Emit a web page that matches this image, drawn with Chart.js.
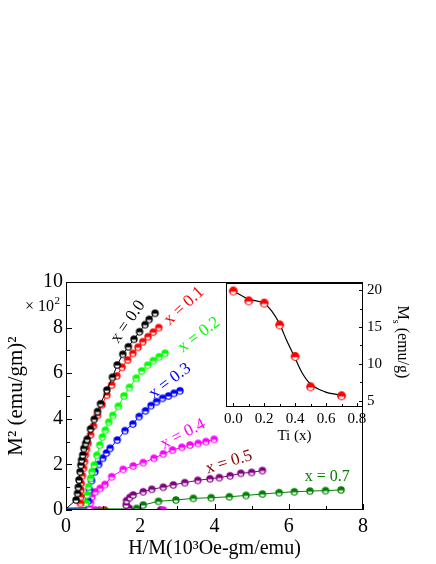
<!DOCTYPE html>
<html><head><meta charset="utf-8">
<script src="https://cdn.jsdelivr.net/npm/chart.js@4"></script>
<style>
html,body{margin:0;padding:0;background:#fff;}
#wrap{position:relative;width:436px;height:564px;overflow:hidden;}
#main{position:absolute;left:0;top:0;}
#inset{position:absolute;left:200px;top:270px;}
</style></head><body>
<div id="wrap"><canvas id="main" width="436" height="564"></canvas><canvas id="inset" width="236" height="180"></canvas></div>
<script>
// ---------- data (H/M in 10^3 Oe-gm/emu, M^2 in 10^2 (emu/gm)^2) ----------
const s00 = [[0.27,0.44],[0.31,0.73],[0.33,1.0],[0.35,1.32],[0.38,1.68],[0.40,1.97],[0.42,2.19],[0.45,2.41],[0.48,2.70],[0.53,2.92],[0.57,3.10],[0.66,3.55],[0.76,3.98],[0.85,4.32],[0.93,4.66],[1.10,5.26],[1.25,5.82],[1.38,6.36],[1.53,6.83],[1.68,7.16],[1.83,7.49],[1.98,7.82],[2.13,8.13],[2.24,8.36],[2.40,8.63]];
const s01 = [[0.39,0.29],[0.40,0.58],[0.40,0.88],[0.41,1.17],[0.44,1.50],[0.47,1.83],[0.50,2.12],[0.52,2.41],[0.55,2.66],[0.59,2.92],[0.66,3.30],[0.74,3.68],[0.85,4.15],[0.97,4.62],[1.10,5.04],[1.23,5.48],[1.37,5.88],[1.51,6.26],[1.66,6.58],[1.80,6.87],[1.94,7.14],[2.07,7.38],[2.21,7.60],[2.35,7.80],[2.50,8.0]];
const s02 = [[0.54,0.30],[0.57,0.66],[0.61,1.02],[0.66,1.39],[0.70,1.68],[0.76,1.97],[0.83,2.40],[0.91,2.85],[0.98,3.20],[1.06,3.50],[1.15,3.85],[1.26,4.15],[1.41,4.55],[1.56,5.0],[1.71,5.38],[1.89,5.78],[2.04,6.10],[2.20,6.35],[2.35,6.55],[2.51,6.72],[2.67,6.88]];
const s03 = [[0.60,0.40],[0.63,0.88],[0.69,1.29],[0.78,1.68],[0.88,2.0],[0.99,2.27],[1.09,2.50],[1.19,2.71],[1.38,3.07],[1.59,3.48],[1.80,3.77],[1.97,4.10],[2.14,4.35],[2.29,4.58],[2.44,4.75],[2.60,4.90],[2.76,5.0],[2.91,5.12],[3.07,5.23]];
const s04 = [[0.63,0.12],[0.66,0.32],[0.70,0.58],[0.79,0.80],[0.92,0.95],[1.05,1.12],[1.23,1.46],[1.54,1.78],[1.81,1.93],[2.08,2.08],[2.37,2.27],[2.62,2.46],[2.87,2.63],[3.12,2.75],[3.34,2.85],[3.56,2.92],[3.77,3.0],[3.99,3.10]];
const s05 = [[1.70,0.08],[1.62,0.22],[1.63,0.41],[1.72,0.55],[1.81,0.66],[2.08,0.80],[2.31,0.91],[2.62,1.0],[2.89,1.10],[3.20,1.20],[3.55,1.30],[3.88,1.37],[4.13,1.42],[4.42,1.50],[4.71,1.61],[5.00,1.65],[5.29,1.73]];
const s07 = [[1.90,0.07],[2.08,0.22],[2.49,0.38],[2.96,0.44],[3.43,0.51],[3.91,0.54],[4.40,0.58],[4.85,0.64],[5.29,0.70],[5.74,0.76],[6.15,0.80],[6.57,0.83],[6.99,0.85],[7.41,0.88]];
// low-field baseline runs (line only, no markers)
const lead00 = [[0,0.05]];
const lead03 = [[0,0.08],[0.55,0.10]];
const lead07 = [[0,0.05],[1.6,0.05]];
// stray low-field points sitting on the axis
const dots01 = [[1.04,0]];
const dots04 = [[0.78,0],[0.90,0],[2.62,0]];
const dots05 = [[1.95,0],[2.55,0]];

const seriesNames = ['x = 0.0','x = 0.1','x = 0.2','x = 0.3','x = 0.4','x = 0.5','x = 0.7'];

const xTicks = [0,2,4,6,8];
const xMinor = [1,3,5,7];
const yTicks = [0,2,4,6,8,10];
const yMinor = [1,3,5,7,9];

// inset: saturation magnetisation vs Ti content
const ti = [0.0,0.1,0.2,0.3,0.4,0.5,0.7];
const ms = [19.9,18.56,18.25,15.29,11.02,6.89,5.67];
const fitTi = [0.0,0.097,0.2,0.248,0.298,0.345,0.395,0.442,0.496,0.593,0.69];
const fitMs = [19.9,18.79,18.2,17.2,15.5,13.2,11.0,8.9,7.34,6.21,5.77];
const insetXTicks = [0.0,0.2,0.4,0.6,0.8];
const insetXMinor = [0.1,0.3,0.5,0.7];
const insetYTicks = [5,10,15,20];
const insetYMinor = [7.5,12.5,17.5];

// ---------- styling ----------
const FONT = '"Liberation Serif","Times New Roman",serif';
const colors = ['#000000','#ff0000','#00ff00','#0000ff','#ff00ff','#800080','#008000'];
const labelColors = ['#000000','#ff0000','#00ff00','#0000ff','#ff00ff','#800000','#008000'];
const labelSpec = [
  {x:1.67,y:8.25,a:-55,size:17},
  {x:3.18,y:8.95,a:-43,size:17},
  {x:3.58,y:7.68,a:-37,size:17},
  {x:2.80,y:5.66,a:-37,size:17},
  {x:3.15,y:3.33,a:-27,size:17},
  {x:4.39,y:2.10,a:-17,size:17},
  {x:7.04,y:1.45,a:0,size:16}
];

function makeMarker(color, r) {
  const s = Math.ceil(2*r + 2);
  const c = document.createElement('canvas');
  c.width = s; c.height = s;
  const g = c.getContext('2d');
  const cx = s/2, cy = s/2;
  g.beginPath(); g.arc(cx, cy, r, 0, Math.PI*2); g.fillStyle = color; g.fill();
  g.beginPath(); g.arc(cx, cy + r*0.15, r*0.62, 0, Math.PI); g.closePath();
  g.fillStyle = '#ffffff'; g.fill();
  return c;
}
const toPts = arr => arr.map(p => ({x:p[0], y:p[1]}));

const series = [s00,s01,s02,s03,s04,s05,s07];
const leads = [lead00,[],[],lead03,[],[],lead07];
const datasets = [];
series.forEach((s,i) => {
  const lead = leads[i];
  const mk = makeMarker(colors[i], 3.7);
  datasets.push({
    label: seriesNames[i],
    data: toPts(lead.concat(s)),
    borderColor: colors[i], borderWidth: 1, backgroundColor: colors[i],
    pointStyle: mk,
    pointRadius: ctx => ctx.dataIndex < lead.length ? 0 : 3.7,
    showLine: true, tension: 0, fill: false
  });
});
[[dots01,1],[dots04,4],[dots05,5]].forEach(([d,i]) => {
  datasets.push({
    data: toPts(d), showLine: false, pointStyle: makeMarker(colors[i], 3.7),
    pointRadius: 3.7, borderColor: colors[i], backgroundColor: colors[i]
  });
});

function drawInwardTicks(ctx, scale, values, len, horizontal, fromEdge, dir) {
  values.forEach(v => {
    const p = Math.round(scale.getPixelForValue(v)) + 0.5;
    ctx.beginPath();
    if (horizontal) { ctx.moveTo(p, fromEdge); ctx.lineTo(p, fromEdge + dir*len); }
    else { ctx.moveTo(fromEdge, p); ctx.lineTo(fromEdge + dir*len, p); }
    ctx.stroke();
  });
}

const mainDeco = {
  id: 'mainDeco',
  afterDatasetsDraw(chart) {
    const {ctx, chartArea: a, scales: {x, y}} = chart;
    ctx.save();
    ctx.strokeStyle = '#000'; ctx.lineWidth = 1;
    ctx.strokeRect(a.left + 0.5, a.top + 0.5, a.right - a.left - 1, a.bottom - a.top - 1);
    drawInwardTicks(ctx, x, xTicks, 6, true, a.bottom, -1);
    drawInwardTicks(ctx, x, xMinor, 4, true, a.bottom, -1);
    drawInwardTicks(ctx, y, yTicks, 6, false, a.left, 1);
    drawInwardTicks(ctx, y, yMinor, 4, false, a.left, 1);
    // series labels
    labelSpec.forEach((l, i) => {
      ctx.save();
      ctx.translate(x.getPixelForValue(l.x), y.getPixelForValue(l.y));
      ctx.rotate(l.a * Math.PI / 180);
      ctx.font = l.size + 'px ' + FONT;
      ctx.fillStyle = labelColors[i];
      ctx.textAlign = 'center'; ctx.textBaseline = 'middle';
      ctx.fillText(seriesNames[i], 0, 0);
      ctx.restore();
    });
    // multiplier
    ctx.fillStyle = '#000';
    ctx.textBaseline = 'alphabetic'; ctx.textAlign = 'left';
    ctx.font = '16px ' + FONT;
    const base = '\u00d7 10';
    const bx = 25, by = 311;
    ctx.fillText(base, bx, by);
    const w = ctx.measureText(base).width;
    ctx.font = '11px ' + FONT;
    ctx.fillText('2', bx + w + 0.5, by - 7);
    ctx.restore();
  }
};

new Chart(document.getElementById('main'), {
  type: 'line',
  data: { datasets },
  options: {
    responsive: false, animation: false, devicePixelRatio: 1,
    layout: { padding: { left: 0, top: 282, right: 73, bottom: 0 } },
    plugins: { legend: { display: false }, tooltip: { enabled: false } },
    scales: {
      x: {
        type: 'linear', min: 0, max: 8,
        afterFit: s => { s.height = 54; },
        afterBuildTicks: s => { s.ticks = xTicks.map(v => ({value: v})); },
        grid: { display: false, drawTicks: false }, border: { display: false },
        ticks: { font: { family: FONT, size: 20 }, color: '#000', padding: 5, maxRotation: 0, autoSkip: false, callback: v => String(v) },
        title: { display: true, text: 'H/M(10\u00b3Oe-gm/emu)', font: { family: FONT, size: 20 }, color: '#000', padding: { top: 0, bottom: 3 } }
      },
      y: {
        type: 'linear', min: 0, max: 10,
        afterFit: s => { s.width = 66; },
        afterBuildTicks: s => { s.ticks = yTicks.map(v => ({value: v})); },
        grid: { display: false, drawTicks: false }, border: { display: false },
        ticks: { font: { family: FONT, size: 20 }, color: '#000', padding: 3, autoSkip: false, callback: v => String(v) },
        title: { display: true, text: 'M\u00b2 (emu/gm)\u00b2', font: { family: FONT, size: 21 }, color: '#000', padding: { top: 4, bottom: 0 } }
      }
    }
  },
  plugins: [mainDeco]
});

// ---------- inset ----------
const insetDeco = {
  id: 'insetDeco',
  beforeDraw(chart) {
    const {ctx, chartArea: a} = chart;
    ctx.save(); ctx.fillStyle = '#fff';
    ctx.fillRect(a.left, a.top, a.right - a.left, a.bottom - a.top);
    ctx.restore();
  },
  afterDatasetsDraw(chart) {
    const {ctx, chartArea: a, scales: {x, y}} = chart;
    ctx.save();
    ctx.strokeStyle = '#000'; ctx.lineWidth = 1;
    ctx.strokeRect(a.left + 0.5, a.top + 0.5, a.right - a.left - 1, a.bottom - a.top - 1);
    drawInwardTicks(ctx, x, insetXTicks, 4, true, a.bottom, -1);
    drawInwardTicks(ctx, x, insetXMinor, 3, true, a.bottom, -1);
    drawInwardTicks(ctx, y, insetYTicks, 4, false, a.right, -1);
    drawInwardTicks(ctx, y, insetYMinor, 3, false, a.right, -1);
    // right-hand title  M_s (emu/g)
    const cx = 202, cy = (a.top + a.bottom) / 2 - 3;
    ctx.translate(cx, cy);
    ctx.rotate(Math.PI / 2);
    ctx.fillStyle = '#000'; ctx.textBaseline = 'middle'; ctx.textAlign = 'left';
    const big = '16px ' + FONT, small = '10px ' + FONT;
    ctx.font = big; const wM = ctx.measureText('M').width; const wR = ctx.measureText(' (emu/g)').width;
    ctx.font = small; const wS = ctx.measureText('s').width;
    let px = -(wM + wS + wR) / 2;
    ctx.font = big; ctx.fillText('M', px, 0); px += wM;
    ctx.font = small; ctx.fillText('s', px, 6); px += wS;
    ctx.font = big; ctx.fillText(' (emu/g)', px, 0);
    ctx.restore();
  }
};

new Chart(document.getElementById('inset'), {
  type: 'line',
  data: { datasets: [
    { data: ti.map((v, i) => ({x: v, y: ms[i]})), showLine: false, pointStyle: makeMarker('#ff0000', 4.4), pointRadius: 4.4, borderColor: '#ff0000', backgroundColor: '#ff0000' },
    { data: fitTi.map((v, i) => ({x: v, y: fitMs[i]})), borderColor: '#000', borderWidth: 1.2, pointRadius: 0, cubicInterpolationMode: 'monotone', fill: false }
  ]},
  options: {
    responsive: false, animation: false, devicePixelRatio: 1,
    layout: { padding: { left: 26, top: 12, right: 0, bottom: 0 } },
    plugins: { legend: { display: false }, tooltip: { enabled: false } },
    scales: {
      x: {
        type: 'linear', min: -0.047, max: 0.839,
        afterFit: s => { s.height = 43; },
        afterBuildTicks: s => { s.ticks = insetXTicks.map(v => ({value: v})); },
        grid: { display: false, drawTicks: false }, border: { display: false },
        ticks: { font: { family: FONT, size: 15 }, color: '#000', padding: 3, maxRotation: 0, autoSkip: false, callback: v => v.toFixed(1) },
        title: { display: true, text: 'Ti (x)', font: { family: FONT, size: 15 }, color: '#000', padding: { top: 0, bottom: 5 } }
      },
      y: {
        type: 'linear', position: 'right', min: 4.15, max: 20.98,
        afterFit: s => { s.width = 73; },
        afterBuildTicks: s => { s.ticks = insetYTicks.map(v => ({value: v})); },
        grid: { display: false, drawTicks: false }, border: { display: false },
        ticks: { font: { family: FONT, size: 15 }, color: '#000', padding: 4, autoSkip: false, callback: v => String(v) }
      }
    }
  },
  plugins: [insetDeco]
});
</script>
</body></html>
